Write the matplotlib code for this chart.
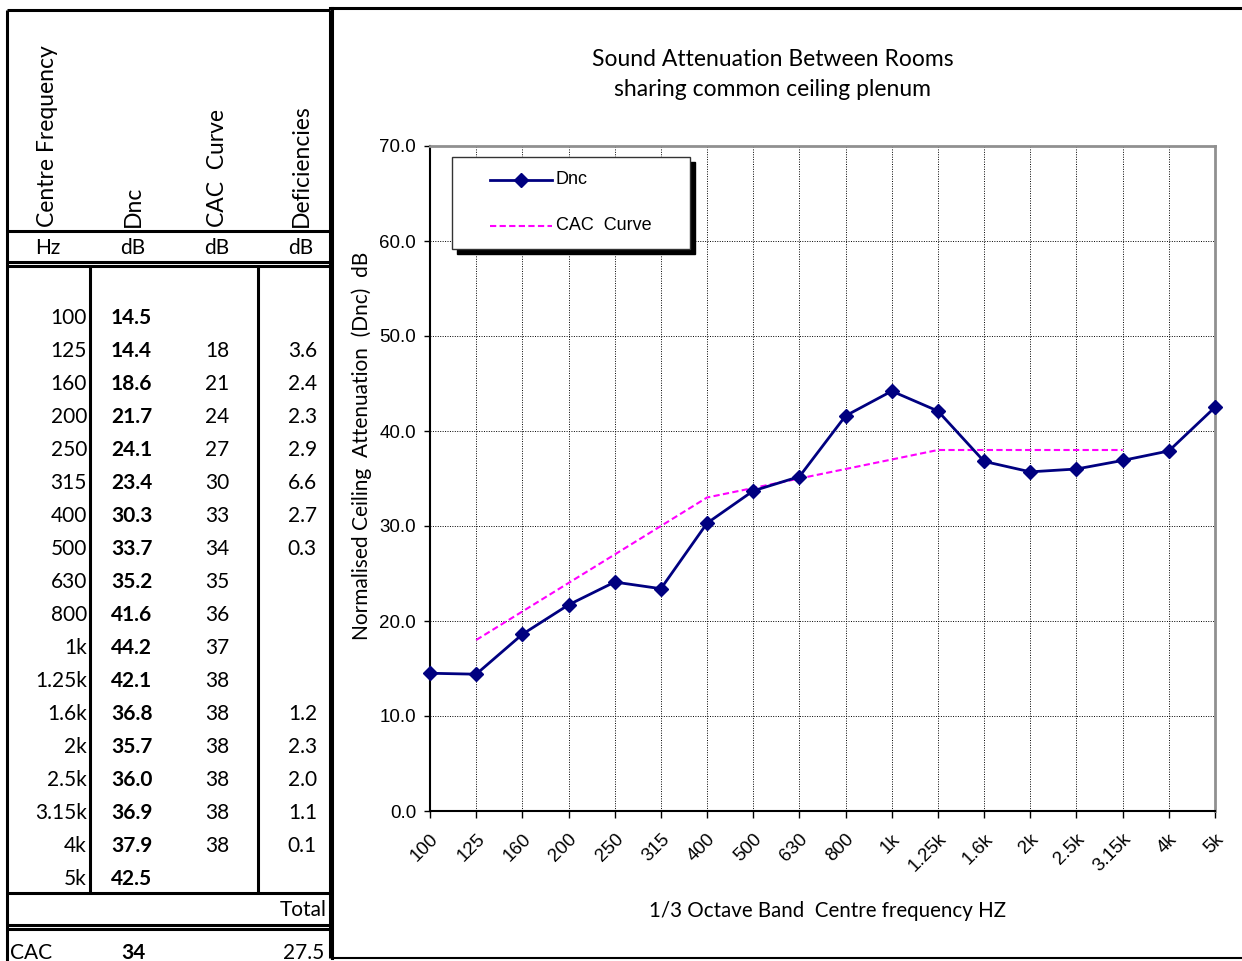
import matplotlib.pyplot as plt
import numpy as np
from matplotlib.lines import Line2D
from matplotlib.patches import Rectangle

# Third-octave band data (from the test sheet)
freqs = ['100', '125', '160', '200', '250', '315', '400', '500', '630', '800',
         '1k', '1.25k', '1.6k', '2k', '2.5k', '3.15k', '4k', '5k']
dnc = [14.5, 14.4, 18.6, 21.7, 24.1, 23.4, 30.3, 33.7, 35.2, 41.6,
       44.2, 42.1, 36.8, 35.7, 36.0, 36.9, 37.9, 42.5]
# CAC reference curve, 125 Hz .. 4 kHz (None = blank cell)
cac_curve = [None, 18, 21, 24, 27, 30, 33, 34, 35, 36,
             37, 38, 38, 38, 38, 38, 38, None]
cac_plot_last = '3.15k'   # the plotted contour stops here
deficiencies = [None, 3.6, 2.4, 2.3, 2.9, 6.6, 2.7, 0.3, None, None,
                None, None, 1.2, 2.3, 2.0, 1.1, 0.1, None]
cac_rating = 34
total_deficiency = 27.5

TABLE_FONT = ['Lato', 'DejaVu Sans']
CHART_FONT = ['Liberation Sans', 'DejaVu Sans']

fig = plt.figure(figsize=(12.42, 9.61), dpi=100)

# ---- overlay in pixel coordinates for the spreadsheet table ----
ov = fig.add_axes([0, 0, 1, 1])
ov.set_xlim(0, 1242)
ov.set_ylim(961, 0)
ov.axis('off')

def hline(y, x0=7, x1=330, lw=2.2):
    ov.plot([x0, x1], [y, y], color='black', lw=lw, solid_capstyle='butt')

def vline(x, y0, y1, lw=2.2):
    ov.plot([x, x], [y0, y1], color='black', lw=lw, solid_capstyle='butt')

# table frame
hline(10)
hline(231)
hline(262)
hline(266)
hline(893)
hline(925)
hline(929)
vline(7, 10, 961)
vline(330, 10, 958)
vline(90, 266, 893)
vline(258, 266, 893)

# chart frame
ov.plot([330, 1242], [8, 8], color='black', lw=2.2)
ov.plot([332, 332], [8, 958], color='black', lw=2.2)
ov.plot([332, 1242], [958, 958], color='black', lw=1.5)

# header
hdr_x = [48, 133, 217, 301]
hdr = ['Centre Frequency', 'Dnc', 'CAC  Curve', 'Deficiencies']
for x, t in zip(hdr_x, hdr):
    ov.text(x, 227, t, rotation=90, ha='center', va='bottom',
            fontsize=16.5, family=TABLE_FONT)
for x, t in zip(hdr_x, ['Hz', 'dB', 'dB', 'dB']):
    ov.text(x, 248, t, ha='center', va='center', fontsize=15, family=TABLE_FONT)

# body rows
row0, dy = 318, 33
for i, f in enumerate(freqs):
    y = row0 + i * dy
    ov.text(87, y, f, ha='right', va='center', fontsize=15, family=TABLE_FONT)
    ov.text(111, y, f'{dnc[i]:.1f}', ha='left', va='center', fontsize=15,
            family=TABLE_FONT, fontweight='bold')
    if cac_curve[i] is not None:
        ov.text(217, y, f'{cac_curve[i]}', ha='center', va='center',
                fontsize=15, family=TABLE_FONT)
    if deficiencies[i] is not None:
        ov.text(317, y, f'{deficiencies[i]:.1f}', ha='right', va='center',
                fontsize=15, family=TABLE_FONT)

ov.text(327, 910, 'Total', ha='right', va='center', fontsize=15, family=TABLE_FONT)
ov.text(10, 953, 'CAC', ha='left', va='center', fontsize=15, family=TABLE_FONT)
ov.text(133, 953, f'{cac_rating}', ha='center', va='center', fontsize=15,
        family=TABLE_FONT, fontweight='bold')
ov.text(324, 953, f'{total_deficiency:.1f}', ha='right', va='center',
        fontsize=15, family=TABLE_FONT)

# title
ov.text(773, 59, 'Sound Attenuation Between Rooms', ha='center', va='center',
        fontsize=16.5, family=TABLE_FONT)
ov.text(773, 89, 'sharing common ceiling plenum', ha='center', va='center',
        fontsize=16.5, family=TABLE_FONT)

# ---- chart ----
W, H = 1242, 961
ax = fig.add_axes([430 / W, (H - 811) / H, (1215 - 430) / W, (811 - 146) / H])
x = np.arange(len(freqs))
n_cac = freqs.index(cac_plot_last) + 1
cac_x = [i for i in range(n_cac) if cac_curve[i] is not None]
cac_y = [cac_curve[i] for i in cac_x]

ax.plot(x, dnc, color='#000080', lw=2, marker='D', markersize=7.5,
        zorder=4, clip_on=False)
ax.plot(cac_x, cac_y, color='#FF00FF', lw=1.5, ls=(0, (3, 1.6)), zorder=3)

ax.set_xlim(0, len(freqs) - 1)
ax.set_ylim(0, 70)
ax.set_yticks(np.arange(0, 71, 10))
ax.set_yticklabels([f'{v:.1f}' for v in np.arange(0, 71, 10)])
ax.set_xticks(x)
ax.set_xticklabels(freqs, rotation=45, ha='right', va='top',
                   rotation_mode='anchor')
for lab in ax.get_xticklabels() + ax.get_yticklabels():
    lab.set_family(CHART_FONT)
    lab.set_fontsize(13.5)
ax.tick_params(axis='x', direction='out', length=5, width=1, pad=9)
ax.tick_params(axis='y', direction='out', length=4, width=1, pad=6)
ax.grid(True, color='black', ls=(0, (1, 1.5)), lw=0.7)
ax.set_axisbelow(True)

for s in ['left', 'bottom']:
    ax.spines[s].set_color('black')
    ax.spines[s].set_linewidth(1.5)
for s in ['top', 'right']:
    ax.spines[s].set_color('#909090')
    ax.spines[s].set_linewidth(2)

ax.set_ylabel('Normalised Ceiling  Attenuation  (Dnc)  dB', family=TABLE_FONT,
              fontsize=15)
ax.yaxis.set_label_coords(-0.074, 0.549)
ax.set_xlabel('1/3 Octave Band  Centre frequency HZ', family=TABLE_FONT,
              fontsize=14.8)
ax.xaxis.set_label_coords(0.507, -0.136)

# legend box with hard shadow, drawn like the spreadsheet one
lx0, lx1, ly0, ly1 = 0.028, 0.331, 0.845, 0.9835
ax.add_patch(Rectangle((lx0 + 0.0064, ly0 - 0.0075), lx1 - lx0, ly1 - ly0,
                       transform=ax.transAxes, facecolor='black',
                       edgecolor='black', zorder=5, clip_on=False))
ax.add_patch(Rectangle((lx0, ly0), lx1 - lx0, ly1 - ly0, transform=ax.transAxes,
                       facecolor='white', edgecolor='#333333', lw=1,
                       zorder=6, clip_on=False))
ax.add_line(Line2D([0.0764, 0.1554], [0.9489, 0.9489], transform=ax.transAxes,
                   color='#000080', lw=2, zorder=7))
ax.add_line(Line2D([0.1159], [0.9489], transform=ax.transAxes, color='#000080',
                   marker='D', markersize=7.5, zorder=7))
ax.add_line(Line2D([0.0764, 0.1554], [0.8797, 0.8797], transform=ax.transAxes,
                   color='#FF00FF', lw=1.5, ls=(0, (3, 1.6)), zorder=7))
ax.text(0.1605, 0.9489, 'Dnc', transform=ax.transAxes, va='center',
        family=CHART_FONT, fontsize=13, zorder=8)
ax.text(0.1605, 0.8797, 'CAC  Curve', transform=ax.transAxes, va='center',
        family=CHART_FONT, fontsize=13, zorder=8)

fig.savefig('out.png', dpi=100)
